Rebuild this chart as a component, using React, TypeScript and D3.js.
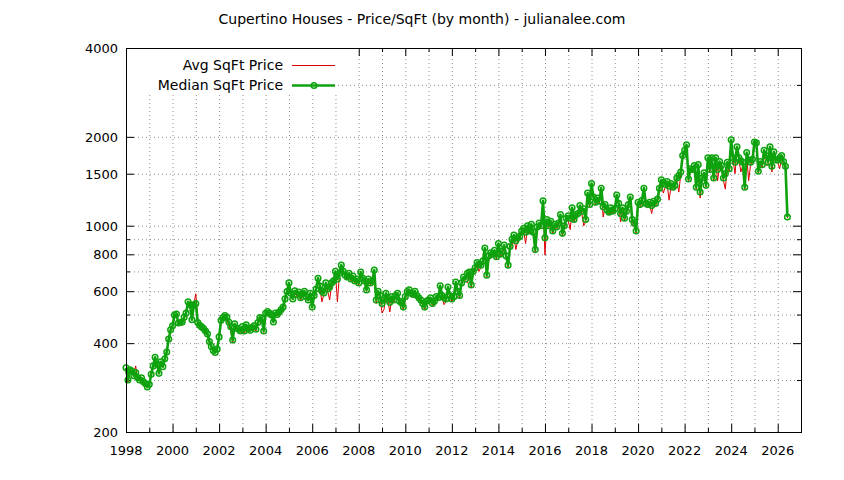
import React from "react";
import * as d3 from "d3";

// median price per sqft, one row per year (Jan..Dec)
const startYear = 1998;
const medianByYear: number[][] = [
  [330, 300, 325, 322, 310, 318, 306, 300, 305, 296, 292, 284],
  [290, 314, 335, 358, 340, 316, 346, 333, 354, 373, 413, 444],
  [458, 498, 502, 468, 470, 472, 490, 506, 552, 540, 480, 540],
  [545, 470, 460, 454, 448, 440, 430, 405, 390, 378, 372, 382],
  [420, 478, 488, 496, 490, 472, 455, 410, 465, 450, 446, 440],
  [455, 440, 462, 448, 442, 452, 458, 446, 470, 488, 486, 440],
  [505, 512, 505, 498, 472, 506, 500, 510, 520, 530, 565, 598],
  [640, 590, 565, 602, 585, 596, 570, 588, 600, 575, 560, 590],
  [530, 580, 610, 664, 625, 600, 592, 640, 610, 620, 640, 650],
  [700, 660, 690, 735, 700, 680, 670, 690, 660, 675, 650, 660],
  [640, 697, 665, 650, 606, 660, 640, 650, 708, 560, 600, 580],
  [545, 560, 590, 570, 550, 575, 560, 580, 590, 555, 548, 530],
  [575, 598, 606, 590, 585, 600, 580, 570, 560, 545, 530, 555],
  [560, 570, 545, 555, 575, 570, 626, 580, 570, 565, 620, 580],
  [565, 575, 644, 600, 580, 640, 670, 660, 690, 697, 630, 700],
  [720, 750, 740, 735, 760, 840, 680, 790, 810, 800, 825, 785],
  [870, 800, 820, 860, 790, 735, 850, 900, 930, 890, 910, 920],
  [960, 980, 950, 1000, 960, 1010, 950, 830, 990, 1020, 1000, 1214],
  [910, 1050, 1000, 1035, 960, 1010, 990, 1020, 1090, 942, 1000, 1060],
  [1080, 1060, 1150, 1050, 1090, 1100, 1170, 1120, 1140, 1050, 1290, 1180],
  [1390, 1250, 1200, 1240, 1210, 1340, 1160, 1180, 1130, 1110, 1150, 1120],
  [1140, 1270, 1190, 1100, 1150, 1060, 1120, 1180, 1250, 1050, 1020, 960],
  [1200, 1180, 1220, 1340, 1190, 1180, 1200, 1170, 1210, 1190, 1230, 1340],
  [1430, 1400, 1380, 1410, 1360, 1390, 1350, 1370, 1450, 1480, 1520, 1730],
  [1800, 1880, 1440, 1560, 1550, 1600, 1350, 1610, 1300, 1450, 1510, 1370],
  [1700, 1550, 1700, 1450, 1700, 1550, 1650, 1600, 1450, 1500, 1640, 1560],
  [1955, 1700, 1640, 1850, 1700, 1660, 1640, 1350, 1770, 1670, 1640, 1680],
  [1920, 1910, 1530, 1650, 1610, 1800, 1730, 1640, 1850, 1590, 1780, 1670],
  [1670, 1700, 1730, 1650, 1590, 1070],
];

// average price per sqft
const avgByYear: number[][] = [
  [320, 295, 318, 315, 312, 335, 300, 298, 300, 292, 288, 282],
  [288, 310, 330, 350, 336, 320, 340, 330, 350, 380, 405, 440],
  [450, 490, 495, 470, 465, 475, 485, 500, 548, 530, 490, 545],
  [588, 480, 455, 450, 445, 435, 425, 400, 388, 376, 370, 378],
  [415, 470, 482, 490, 480, 460, 440, 400, 455, 445, 440, 435],
  [448, 430, 455, 440, 438, 445, 450, 440, 462, 480, 478, 435],
  [498, 505, 500, 490, 470, 498, 495, 500, 512, 520, 555, 590],
  [630, 580, 560, 595, 575, 585, 560, 575, 590, 568, 555, 580],
  [525, 570, 600, 650, 615, 552, 585, 625, 600, 560, 630, 640],
  [690, 552, 680, 720, 690, 670, 660, 680, 650, 665, 640, 650],
  [630, 685, 655, 640, 600, 650, 630, 640, 690, 545, 590, 570],
  [506, 520, 575, 560, 510, 565, 550, 570, 575, 545, 540, 520],
  [565, 590, 598, 580, 575, 592, 570, 560, 550, 538, 520, 545],
  [550, 560, 535, 545, 565, 560, 615, 570, 540, 555, 610, 570],
  [555, 565, 635, 590, 570, 630, 660, 650, 640, 685, 615, 690],
  [705, 735, 700, 725, 745, 825, 670, 760, 790, 785, 810, 770],
  [850, 785, 800, 845, 770, 720, 835, 850, 915, 830, 895, 905],
  [940, 965, 870, 985, 940, 990, 935, 815, 970, 1000, 985, 1190],
  [795, 1030, 985, 1015, 940, 990, 970, 1000, 1070, 925, 980, 1040],
  [1040, 970, 1130, 1030, 1070, 1080, 1150, 1100, 1000, 1030, 1265, 1160],
  [1360, 1230, 1180, 1215, 1190, 1310, 1070, 1160, 1110, 1090, 1130, 1100],
  [1120, 1245, 1170, 1030, 1130, 1040, 1100, 1150, 1225, 1000, 1000, 945],
  [1170, 1150, 1200, 1310, 1160, 1150, 1175, 1100, 1190, 1170, 1200, 1310],
  [1400, 1290, 1350, 1380, 1220, 1360, 1320, 1340, 1420, 1300, 1490, 1700],
  [1760, 1850, 1420, 1530, 1520, 1570, 1330, 1580, 1240, 1420, 1480, 1350],
  [1660, 1520, 1660, 1420, 1670, 1420, 1610, 1570, 1420, 1330, 1600, 1530],
  [1920, 1660, 1500, 1810, 1670, 1520, 1600, 1330, 1730, 1420, 1610, 1650],
  [1880, 1870, 1510, 1620, 1580, 1760, 1600, 1610, 1810, 1520, 1740, 1640],
  [1640, 1560, 1700, 1620, 1560, 1060],
];

const yMajor = [200, 400, 600, 800, 1000, 1500, 2000, 4000];
const yMinor = [300, 500, 700, 900, 3000];
const yGrid = [300, 400, 500, 600, 700, 800, 900, 1000, 1500, 2000, 3000];
const xLabels = d3.range(1998, 2027, 2);
const xMinor = d3.range(1999, 2028, 2);

const W = 844;
const H = 480;
const margin = { left: 126, right: 43, top: 48, bottom: 48 };
const font = "'DejaVu Sans', sans-serif";

type Pt = { t: number; v: number };

const toPoints = (rows: number[][]): Pt[] =>
  rows.flatMap((row, yi) => row.map((v, m) => ({ t: startYear + yi + m / 12, v })));

export default function App() {
  const x = d3.scaleLinear().domain([1998, 2027]).range([margin.left, W - margin.right]);
  const y = d3.scaleLog().domain([200, 4000]).range([H - margin.bottom, margin.top]);

  const median = toPoints(medianByYear);
  const avg = toPoints(avgByYear);

  const line = d3
    .line<Pt>()
    .x((d) => x(d.t))
    .y((d) => y(d.v));

  const x0 = x.range()[0];
  const x1 = x.range()[1];
  const y0 = y.range()[0];
  const y1 = y.range()[1];

  const green = "#0ea30e";
  const red = "#dd0000";
  const gridStyle = { stroke: "#909090", strokeWidth: 1, strokeDasharray: "1,3" };

  return (
    <svg width={W} height={H} style={{ position: "absolute", left: 0, top: 0, background: "#fff" }}>
      <rect width={W} height={H} fill="#fff" />
      <text x={422} y={24} textAnchor="middle" fontFamily={font} fontSize={14}>
        Cupertino Houses - Price/SqFt (by month) - julianalee.com
      </text>

      {/* grid */}
      {yGrid.map((v) => (
        <line key={"gy" + v} x1={x0} x2={x1} y1={y(v) + 0.5} y2={y(v) + 0.5} {...gridStyle} />
      ))}
      {d3.range(1999, 2027).map((yr) => (
        <line key={"gx" + yr} x1={x(yr) + 0.5} x2={x(yr) + 0.5} y1={y0} y2={y1} {...gridStyle} />
      ))}

      {/* ticks, mirrored */}
      {yMajor.map((v) => (
        <g key={"ym" + v}>
          <line x1={x0} x2={x0 + 8} y1={y(v) + 0.5} y2={y(v) + 0.5} stroke="#000" />
          <line x1={x1 - 8} x2={x1} y1={y(v) + 0.5} y2={y(v) + 0.5} stroke="#000" />
          <text x={x0 - 8} y={y(v) + 5} textAnchor="end" fontFamily={font} fontSize={13}>
            {v}
          </text>
        </g>
      ))}
      {yMinor.map((v) => (
        <g key={"yn" + v}>
          <line x1={x0} x2={x0 + 4} y1={y(v) + 0.5} y2={y(v) + 0.5} stroke="#000" />
          <line x1={x1 - 4} x2={x1} y1={y(v) + 0.5} y2={y(v) + 0.5} stroke="#000" />
        </g>
      ))}
      {xLabels.map((yr) => (
        <g key={"xm" + yr}>
          <line x1={x(yr) + 0.5} x2={x(yr) + 0.5} y1={y0} y2={y0 - 8} stroke="#000" />
          <line x1={x(yr) + 0.5} x2={x(yr) + 0.5} y1={y1} y2={y1 + 8} stroke="#000" />
          <text x={x(yr)} y={y0 + 23} textAnchor="middle" fontFamily={font} fontSize={13}>
            {yr}
          </text>
        </g>
      ))}
      {xMinor.map((yr) => (
        <g key={"xn" + yr}>
          <line x1={x(yr) + 0.5} x2={x(yr) + 0.5} y1={y0} y2={y0 - 4} stroke="#000" />
          <line x1={x(yr) + 0.5} x2={x(yr) + 0.5} y1={y1} y2={y1 + 4} stroke="#000" />
        </g>
      ))}

      {/* series */}
      <path d={line(avg) ?? ""} fill="none" stroke={red} strokeWidth={1} />
      <path d={line(median) ?? ""} fill="none" stroke={green} strokeWidth={2.6} strokeLinejoin="round" />
      {median.map((d, i) => (
        <circle key={i} cx={x(d.t)} cy={y(d.v)} r={2.8} fill="none" stroke={green} strokeWidth={1.5} />
      ))}

      {/* legend */}
      <rect x={x0 + 1} y={y1 + 1} width={211} height={46} fill="#fff" />
      <text x={283} y={70} textAnchor="end" fontFamily={font} fontSize={14}>
        Avg SqFt Price
      </text>
      <line x1={292} x2={335} y1={65.5} y2={65.5} stroke={red} strokeWidth={1} />
      <text x={283} y={90} textAnchor="end" fontFamily={font} fontSize={14}>
        Median SqFt Price
      </text>
      <line x1={292} x2={335} y1={85.5} y2={85.5} stroke={green} strokeWidth={2.6} />
      <circle cx={314} cy={85.5} r={2.8} fill="none" stroke={green} strokeWidth={1.5} />

      {/* border */}
      <rect x={x0 + 0.5} y={y1 + 0.5} width={x1 - x0} height={y0 - y1} fill="none" stroke="#000" strokeWidth={1} />
    </svg>
  );
}
